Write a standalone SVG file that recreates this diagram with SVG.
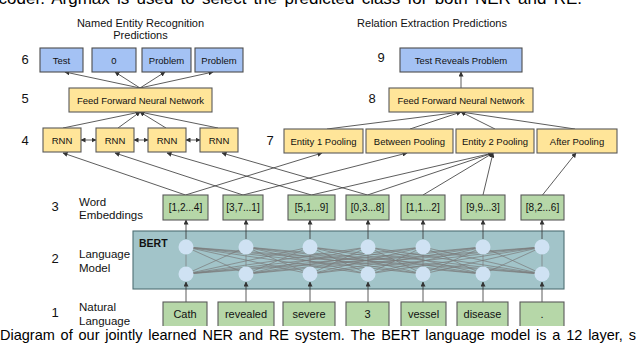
<svg xmlns="http://www.w3.org/2000/svg" width="640" height="346" viewBox="0 0 640 346">
<style>
text{font-family:"Liberation Sans",Arial,sans-serif;fill:#111}
.lbl{font-size:9.5px;text-anchor:middle}
.num{font-size:13px;text-anchor:middle}
.side{font-size:11.5px}
.hdr{font-size:11px;text-anchor:middle}
.blue{fill:#a4c2f4;stroke:#4d4d4d;stroke-width:1.1}
.yel{fill:#ffe599;stroke:#595959;stroke-width:1.1}
.grn{fill:#b6d7a8;stroke:#595959;stroke-width:1.1}
.c{stroke:#333;stroke-width:0.8;fill:none;marker-end:url(#ah)}
.bi{marker-start:url(#ah)}
.mesh{stroke:#7a7a7a;stroke-width:0.7}
.node{fill:#cfe2f3}
.cap{font-size:14.5px;fill:#000}
</style>
<defs>
<marker id="ah" markerUnits="userSpaceOnUse" markerWidth="5" markerHeight="5" refX="4.5" refY="2.5" orient="auto-start-reverse">
<path d="M0,0 L5,2.5 L0,5 z" fill="#333"/>
</marker>
<clipPath id="clipIn"><rect x="0" y="0" width="640" height="326"/></clipPath>
</defs>
<rect width="640" height="346" fill="#fff"/>

<text class="cap" x="582" y="4" text-anchor="end" word-spacing="2.5" style="font-size:17px">coder. Argmax is used to select the predicted class for both NER and RE.</text>

<text class="hdr" x="140.5" y="27">Named Entity Recognition</text>
<text class="hdr" x="140.5" y="39">Predictions</text>
<text class="hdr" x="432" y="27">Relation Extraction Predictions</text>

<g id="labels">
<text class="num" x="25" y="64">6</text>
<text class="num" x="25" y="103">5</text>
<text class="num" x="25" y="145">4</text>
<text class="num" x="270" y="145">7</text>
<text class="num" x="381" y="62">9</text>
<text class="num" x="372" y="103">8</text>
<text class="num" x="55" y="211">3</text>
<text class="num" x="55" y="263">2</text>
<text class="num" x="55" y="317">1</text>
<text class="side" x="79" y="206">Word</text>
<text class="side" x="79" y="219">Embeddings</text>
<text class="side" x="79" y="258">Language</text>
<text class="side" x="79" y="272">Model</text>
<text class="side" x="79" y="311">Natural</text>
<text class="side" x="79" y="325">Language</text>
</g>

<g id="bert">
<rect x="133" y="231" width="431" height="58" fill="#a2c4c9" stroke="#4f6f74" stroke-width="1.1"/>
<text x="139" y="247" style="font-size:10.5px;font-weight:bold">BERT</text>
</g>

<g id="connectors">
<g class="mesh">
<line x1="186" y1="274" x2="246" y2="247"/><line x1="186" y1="274" x2="310" y2="247"/><line x1="186" y1="274" x2="368" y2="247"/><line x1="186" y1="274" x2="423" y2="247"/><line x1="186" y1="274" x2="483" y2="247"/><line x1="186" y1="274" x2="542" y2="247"/>
<line x1="246" y1="274" x2="186" y2="247"/><line x1="246" y1="274" x2="310" y2="247"/><line x1="246" y1="274" x2="368" y2="247"/><line x1="246" y1="274" x2="423" y2="247"/><line x1="246" y1="274" x2="483" y2="247"/><line x1="246" y1="274" x2="542" y2="247"/>
<line x1="310" y1="274" x2="186" y2="247"/><line x1="310" y1="274" x2="246" y2="247"/><line x1="310" y1="274" x2="368" y2="247"/><line x1="310" y1="274" x2="423" y2="247"/><line x1="310" y1="274" x2="483" y2="247"/><line x1="310" y1="274" x2="542" y2="247"/>
<line x1="368" y1="274" x2="186" y2="247"/><line x1="368" y1="274" x2="246" y2="247"/><line x1="368" y1="274" x2="310" y2="247"/><line x1="368" y1="274" x2="423" y2="247"/><line x1="368" y1="274" x2="483" y2="247"/><line x1="368" y1="274" x2="542" y2="247"/>
<line x1="423" y1="274" x2="186" y2="247"/><line x1="423" y1="274" x2="246" y2="247"/><line x1="423" y1="274" x2="310" y2="247"/><line x1="423" y1="274" x2="368" y2="247"/><line x1="423" y1="274" x2="483" y2="247"/><line x1="423" y1="274" x2="542" y2="247"/>
<line x1="483" y1="274" x2="186" y2="247"/><line x1="483" y1="274" x2="246" y2="247"/><line x1="483" y1="274" x2="310" y2="247"/><line x1="483" y1="274" x2="368" y2="247"/><line x1="483" y1="274" x2="423" y2="247"/><line x1="483" y1="274" x2="542" y2="247"/>
<line x1="542" y1="274" x2="186" y2="247"/><line x1="542" y1="274" x2="246" y2="247"/><line x1="542" y1="274" x2="310" y2="247"/><line x1="542" y1="274" x2="368" y2="247"/><line x1="542" y1="274" x2="423" y2="247"/><line x1="542" y1="274" x2="483" y2="247"/>
<line x1="186" y1="274" x2="186" y2="247"/><line x1="246" y1="274" x2="246" y2="247"/><line x1="310" y1="274" x2="310" y2="247"/><line x1="368" y1="274" x2="368" y2="247"/><line x1="423" y1="274" x2="423" y2="247"/><line x1="483" y1="274" x2="483" y2="247"/><line x1="542" y1="274" x2="542" y2="247"/>
</g>
<line class="c" x1="186" y1="302" x2="186" y2="282"/>
<line class="c" x1="246" y1="302" x2="246" y2="282"/>
<line class="c" x1="310" y1="302" x2="310" y2="282"/>
<line class="c" x1="368" y1="302" x2="368" y2="282"/>
<line class="c" x1="423" y1="302" x2="423" y2="282"/>
<line class="c" x1="483" y1="302" x2="483" y2="282"/>
<line class="c" x1="542" y1="302" x2="542" y2="282"/>
<line class="c" x1="186" y1="239" x2="186" y2="220"/>
<line class="c" x1="246" y1="239" x2="246" y2="220"/>
<line class="c" x1="310" y1="239" x2="310" y2="220"/>
<line class="c" x1="368" y1="239" x2="368" y2="220"/>
<line class="c" x1="423" y1="239" x2="423" y2="220"/>
<line class="c" x1="483" y1="239" x2="483" y2="220"/>
<line class="c" x1="542" y1="239" x2="542" y2="220"/>
<line class="c" x1="185.5" y1="195" x2="63" y2="153"/>
<line class="c" x1="243" y1="195" x2="115" y2="153"/>
<line class="c" x1="311.5" y1="195" x2="167" y2="153"/>
<line class="c" x1="367.5" y1="195" x2="222" y2="153"/>
<line class="c" x1="185.5" y1="195" x2="322" y2="153"/>
<line class="c" x1="243" y1="195" x2="407" y2="153"/>
<line class="c" x1="311.5" y1="195" x2="493" y2="153"/>
<line class="c" x1="367.5" y1="195" x2="493" y2="153"/>
<line class="c" x1="423" y1="195" x2="493" y2="153"/>
<line class="c" x1="483" y1="195" x2="493" y2="153"/>
<line class="c" x1="542.5" y1="195" x2="576" y2="153"/>
<line class="c bi" x1="81" y1="140" x2="96" y2="140"/>
<line class="c bi" x1="134" y1="140" x2="148" y2="140"/>
<line class="c bi" x1="186" y1="140" x2="200" y2="140"/>
<line class="c" x1="63" y1="128" x2="140" y2="112"/>
<line class="c" x1="118" y1="128" x2="140" y2="112"/>
<line class="c" x1="166" y1="128" x2="140" y2="112"/>
<line class="c" x1="218" y1="128" x2="140" y2="112"/>
<line class="c" x1="140" y1="88" x2="65" y2="72"/>
<line class="c" x1="140" y1="88" x2="115" y2="72"/>
<line class="c" x1="140" y1="88" x2="165" y2="72"/>
<line class="c" x1="140" y1="88" x2="213" y2="72"/>
<line class="c" x1="327" y1="129" x2="461" y2="112"/>
<line class="c" x1="410" y1="129" x2="461" y2="112"/>
<line class="c" x1="495" y1="129" x2="461" y2="112"/>
<line class="c" x1="575" y1="129" x2="461" y2="112"/>
<line class="c" x1="461" y1="88" x2="461" y2="72"/>
</g>

<g id="bert-nodes">
<circle class="node" cx="186" cy="247" r="7.5"/><circle class="node" cx="246" cy="247" r="7.5"/><circle class="node" cx="310" cy="247" r="7.5"/><circle class="node" cx="368" cy="247" r="7.5"/><circle class="node" cx="423" cy="247" r="7.5"/><circle class="node" cx="483" cy="247" r="7.5"/><circle class="node" cx="542" cy="247" r="7.5"/>
<circle class="node" cx="186" cy="274" r="7.5"/><circle class="node" cx="246" cy="274" r="7.5"/><circle class="node" cx="310" cy="274" r="7.5"/><circle class="node" cx="368" cy="274" r="7.5"/><circle class="node" cx="423" cy="274" r="7.5"/><circle class="node" cx="483" cy="274" r="7.5"/><circle class="node" cx="542" cy="274" r="7.5"/>
</g>

<g id="ner-out-1"><rect class="blue" x="40" y="48" width="43" height="24"/><text class="lbl" x="61.5" y="63.5">Test</text></g>
<g id="ner-out-2"><rect class="blue" x="92" y="48" width="44" height="24"/><text class="lbl" x="114" y="63.5">0</text></g>
<g id="ner-out-3"><rect class="blue" x="142" y="48" width="49" height="24"/><text class="lbl" x="166.5" y="63.5">Problem</text></g>
<g id="ner-out-4"><rect class="blue" x="195" y="48" width="48" height="24"/><text class="lbl" x="219" y="63.5">Problem</text></g>

<g id="ner-ffnn"><rect class="yel" x="69" y="88" width="143" height="24"/><text class="lbl" x="140.5" y="103.5">Feed Forward Neural Network</text></g>

<g id="rnn-1"><rect class="yel" x="43" y="128" width="38" height="24"/><text class="lbl" x="62" y="143.5">RNN</text></g>
<g id="rnn-2"><rect class="yel" x="96" y="128" width="38" height="24"/><text class="lbl" x="115" y="143.5">RNN</text></g>
<g id="rnn-3"><rect class="yel" x="148" y="128" width="38" height="24"/><text class="lbl" x="167" y="143.5">RNN</text></g>
<g id="rnn-4"><rect class="yel" x="200" y="128" width="38" height="24"/><text class="lbl" x="219" y="143.5">RNN</text></g>

<g id="re-out"><rect class="blue" x="400" y="48" width="122" height="24"/><text class="lbl" x="461" y="63.5">Test Reveals Problem</text></g>
<g id="re-ffnn"><rect class="yel" x="389" y="88" width="144" height="24"/><text class="lbl" x="461" y="103.5">Feed Forward Neural Network</text></g>

<g id="pool-e1"><rect class="yel" x="284" y="129" width="79" height="24"/><text class="lbl" x="323.5" y="144.5">Entity 1 Pooling</text></g>
<g id="pool-between"><rect class="yel" x="366" y="129" width="87" height="24"/><text class="lbl" x="409.5" y="144.5">Between Pooling</text></g>
<g id="pool-e2"><rect class="yel" x="456" y="129" width="78" height="24"/><text class="lbl" x="495" y="144.5">Entity 2 Pooling</text></g>
<g id="pool-after"><rect class="yel" x="537" y="129" width="80" height="24"/><text class="lbl" x="577" y="144.5">After Pooling</text></g>

<g id="emb-1"><rect class="grn" x="163" y="195" width="45" height="25"/><text class="lbl" x="185.5" y="211" style="font-size:10px">[1,2...4]</text></g>
<g id="emb-2"><rect class="grn" x="223" y="195" width="40" height="25"/><text class="lbl" x="243" y="211" style="font-size:10px">[3,7...1]</text></g>
<g id="emb-3"><rect class="grn" x="288" y="195" width="47" height="25"/><text class="lbl" x="311.5" y="211" style="font-size:10px">[5,1...9]</text></g>
<g id="emb-4"><rect class="grn" x="346" y="195" width="43" height="25"/><text class="lbl" x="367.5" y="211" style="font-size:10px">[0,3...8]</text></g>
<g id="emb-5"><rect class="grn" x="401" y="195" width="44" height="25"/><text class="lbl" x="423" y="211" style="font-size:10px">[1,1...2]</text></g>
<g id="emb-6"><rect class="grn" x="461" y="195" width="44" height="25"/><text class="lbl" x="483" y="211" style="font-size:10px">[9,9...3]</text></g>
<g id="emb-7"><rect class="grn" x="521" y="195" width="43" height="25"/><text class="lbl" x="542.5" y="211" style="font-size:10px">[8,2...6]</text></g>

<g clip-path="url(#clipIn)">
<g id="in-1"><rect class="grn" x="163" y="302" width="44" height="30"/><text class="lbl" x="185" y="318" style="font-size:11px">Cath</text></g>
<g id="in-2"><rect class="grn" x="218" y="302" width="56" height="30"/><text class="lbl" x="246" y="318" style="font-size:11px">revealed</text></g>
<g id="in-3"><rect class="grn" x="283" y="302" width="52" height="30"/><text class="lbl" x="309" y="318" style="font-size:11px">severe</text></g>
<g id="in-4"><rect class="grn" x="346" y="302" width="43" height="30"/><text class="lbl" x="367.5" y="318" style="font-size:11px">3</text></g>
<g id="in-5"><rect class="grn" x="401" y="302" width="45" height="30"/><text class="lbl" x="423.5" y="318" style="font-size:11px">vessel</text></g>
<g id="in-6"><rect class="grn" x="457" y="302" width="51" height="30"/><text class="lbl" x="482.5" y="318" style="font-size:11px">disease</text></g>
<g id="in-7"><rect class="grn" x="520" y="302" width="44" height="30"/><text class="lbl" x="542" y="318" style="font-size:11px">.</text></g>
</g>

<text class="cap" x="0" y="340" word-spacing="1.8">Diagram of our jointly learned NER and RE system. The BERT language model is a 12 layer, s</text>
</svg>
